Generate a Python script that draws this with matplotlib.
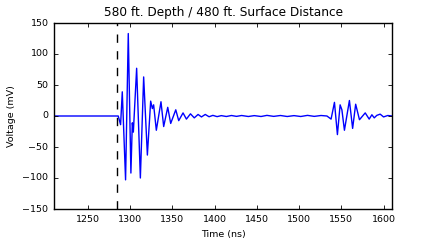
import matplotlib
matplotlib.use("Agg")
import matplotlib.pyplot as plt

# Time (ns) and voltage (mV)
time_ns = [1210, 1250, 1280, 1286, 1288.8, 1290.8, 1294.7, 1297.9, 1301.0, 1302.7,
           1303.9, 1307.8, 1312.2, 1316.1, 1320.5, 1324.4, 1326.4, 1327.9, 1331.1,
           1336.6, 1339.8, 1344.6, 1348.1, 1354.1, 1357.6, 1362.7, 1366.7, 1371.5,
           1376.0, 1380.5, 1384.5, 1389.0, 1393.5, 1398.0, 1403.0, 1408.0, 1414.0,
           1420.0, 1426.0, 1432.0, 1440.0, 1447.0, 1455.0, 1462.0, 1470.0, 1478.0,
           1486.0, 1494.0, 1502.0, 1510.0, 1518.0, 1526.0, 1533.0, 1537.9, 1541.9,
           1545.4, 1548.6, 1550.7, 1553.7, 1559.6, 1563.4, 1567.0, 1571.5, 1578.3,
           1583.0, 1586.2, 1589.0, 1592.0, 1596.0, 1600.0, 1605.0, 1610.0]
voltage_mv = [0, 0, 0, 0, -14, 39, -103, 133, -92, -11,
              -26, 77, -100, 63, -63, 24, 12, 18, -23,
              23, -17, 14, -12, 10, -7.5, 5, -5, 3.5,
              -3, 2.5, -1.5, 2.5, -1.2, 1.0, -1.0, 0.6, -0.8,
              0.8, -0.6, 0.8, -0.8, 0.6, -0.8, 1.0, -0.6, 0.8,
              -0.8, 0.6, -0.8, 1.0, -0.6, 0.8, 0, -5, 22,
              -30, 18, 10, -23, 25, -20, 19, -6, 5,
              -5, 2, -3, 1, 3, -1.5, 0.8, 0]
marker_time = 1285
x_ticks = [1250, 1300, 1350, 1400, 1450, 1500, 1550, 1600]
y_ticks = [-150, -100, -50, 0, 50, 100, 150]

plt.style.use("classic")
plt.rcParams["font.family"] = ["DejaVu Sans"]
plt.rcParams["font.size"] = 6.8

fig = plt.figure(figsize=(4.36, 2.40), dpi=100, facecolor="white")
ax = fig.add_axes([54 / 436, 31 / 240, 338 / 436, 186 / 240])
ax.plot(time_ns, voltage_mv, color="#0000ff", linewidth=1.0)
ax.axvline(marker_time, color="black", linestyle="--", linewidth=1.0)
ax.set_xlim(1210, 1610)
ax.set_ylim(-150, 150)
ax.set_xticks(x_ticks)
ax.set_yticks(y_ticks)
ax.tick_params(direction="in", length=3, width=0.6)
ax.set_xlabel("Time (ns)")
ax.set_ylabel("Voltage (mV)")
ax.set_title("580 ft. Depth / 480 ft. Surface Distance", fontsize=8.7)
fig.savefig("out.png", dpi=100, facecolor="white")
